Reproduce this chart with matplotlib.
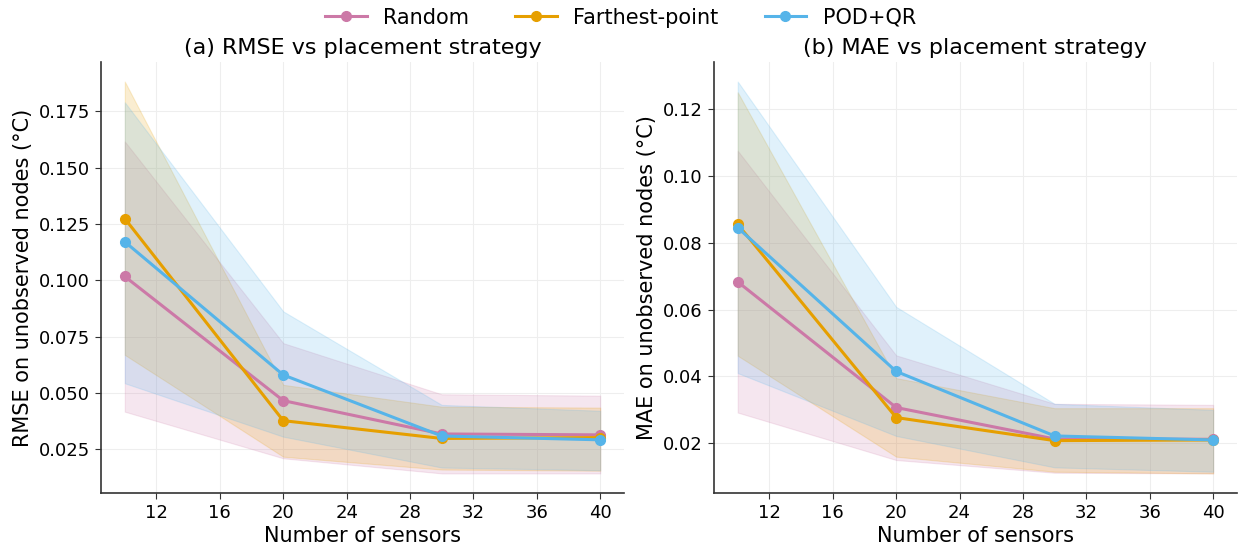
import matplotlib
matplotlib.use("Agg")
import matplotlib.pyplot as plt

sensors = [10, 20, 30, 40]
strategies = ["Random", "Farthest-point", "POD+QR"]
colors = ["#CC79A7", "#E69F00", "#56B4E9"]

# RMSE: mean, lower and upper band per strategy
rmse_mean = {
    "Random": [0.1017, 0.0466, 0.0318, 0.0314],
    "Farthest-point": [0.1274, 0.0377, 0.0298, 0.0302],
    "POD+QR": [0.1171, 0.0580, 0.0309, 0.0292],
}
rmse_lo = {
    "Random": [0.0417, 0.0210, 0.0143, 0.0143],
    "Farthest-point": [0.0669, 0.0217, 0.0160, 0.0155],
    "POD+QR": [0.0543, 0.0306, 0.0169, 0.0157],
}
rmse_hi = {
    "Random": [0.1616, 0.0721, 0.0494, 0.0488],
    "Farthest-point": [0.1882, 0.0536, 0.0439, 0.0435],
    "POD+QR": [0.1790, 0.0862, 0.0447, 0.0421],
}

# MAE: mean, lower and upper band per strategy
mae_mean = {
    "Random": [0.0683, 0.0307, 0.0213, 0.0212],
    "Farthest-point": [0.0855, 0.0277, 0.0208, 0.0210],
    "POD+QR": [0.0845, 0.0415, 0.0222, 0.0210],
}
mae_lo = {
    "Random": [0.0292, 0.0150, 0.0112, 0.0110],
    "Farthest-point": [0.0462, 0.0160, 0.0115, 0.0110],
    "POD+QR": [0.0410, 0.0222, 0.0128, 0.0115],
}
mae_hi = {
    "Random": [0.1075, 0.0463, 0.0318, 0.0315],
    "Farthest-point": [0.1250, 0.0395, 0.0305, 0.0305],
    "POD+QR": [0.1282, 0.0608, 0.0318, 0.0300],
}

panels = [
    ("(a) RMSE vs placement strategy", "RMSE on unobserved nodes (°C)", rmse_mean, rmse_lo, rmse_hi),
    ("(b) MAE vs placement strategy", "MAE on unobserved nodes (°C)", mae_mean, mae_lo, mae_hi),
]

fig = plt.figure(figsize=(12.41, 5.48), dpi=100)
axes = [
    fig.add_axes([0.0814, 0.1004, 0.4214, 0.7865]),
    fig.add_axes([0.5753, 0.1004, 0.4214, 0.7865]),
]

for ax, (title, ylabel, mean, lo, hi) in zip(axes, panels):
    for name, c in zip(strategies, colors):
        ax.fill_between(sensors, lo[name], hi[name], color=c, alpha=0.18, linewidth=0.8)
        ax.plot(sensors, mean[name], color=c, marker="o", markersize=7, linewidth=2.2, label=name)
    ax.set_title(title, fontsize=16, pad=6)
    ax.set_xlabel("Number of sensors", fontsize=15, labelpad=3)
    ax.set_ylabel(ylabel, fontsize=15, labelpad=4)
    ax.set_xticks([12, 16, 20, 24, 28, 32, 36, 40])
    ax.tick_params(labelsize=13, color="#333333", length=4.5)
    ax.grid(True, color="#eeeeee", linewidth=0.8)
    ax.set_axisbelow(True)
    for s in ["top", "right"]:
        ax.spines[s].set_visible(False)
    for s in ["left", "bottom"]:
        ax.spines[s].set_color("#333333")
        ax.spines[s].set_linewidth(1.2)

handles, labels = axes[0].get_legend_handles_labels()
fig.legend(handles, labels, loc="upper center", bbox_to_anchor=(0.5, 1.02), ncol=3,
           frameon=False, fontsize=15, handlelength=2, columnspacing=2.2)

fig.savefig("out.png", dpi=100)
